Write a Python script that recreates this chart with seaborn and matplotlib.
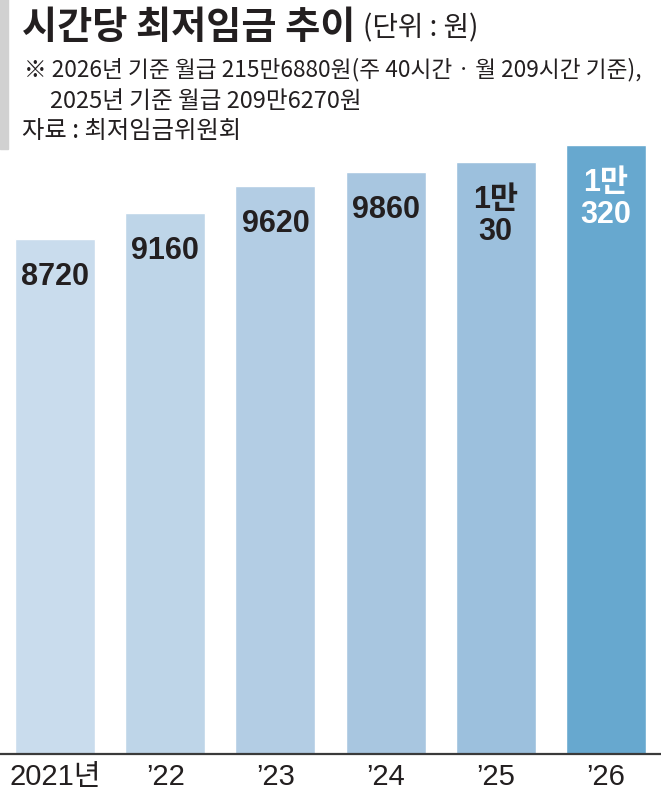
import matplotlib
matplotlib.use("Agg")
import matplotlib.pyplot as plt
import pandas as pd
import seaborn as sns
from matplotlib.patches import Rectangle

# 시간당 최저임금 (단위: 원)
years = ["2021년", "’22", "’23", "’24", "’25", "’26"]
wages = [8720, 9160, 9620, 9860, 10030, 10320]
value_labels = ["8720", "9160", "9620", "9860", "1만\n30", "1만\n320"]
bar_colors = ["#c9dced", "#bed5e8", "#b3cde4", "#a8c6e0", "#9cc0dd", "#67a8cf"]
label_colors = ["#231f20", "#231f20", "#231f20", "#231f20", "#231f20", "#ffffff"]

title = "시간당 최저임금 추이"
unit = "(단위 : 원)"
note_1 = "※ 2026년 기준 월급 215만6880원(주 40시간 · 월 209시간 기준),"
note_2 = "2025년 기준 월급 209만6270원"
source = "자료 : 최저임금위원회"

W, H = 661, 803
INK = "#231f20"
NUM_FONT = ["Liberation Sans", "Noto Sans CJK KR"]

sns.set_theme(style="white")
plt.rcParams["font.family"] = ["Noto Sans CJK KR", "DejaVu Sans"]


def fx(px):
    return px / W


def fy(py):
    return 1 - py / H


df = pd.DataFrame({"year": years, "wage": wages})

fig = plt.figure(figsize=(W / 100, H / 100), dpi=100)
ax = fig.add_axes([0, (H - 755) / H, 1, (755 - 146) / H])
ax.set_facecolor("none")

sns.barplot(
    data=df,
    x="year",
    y="wage",
    hue="year",
    palette=bar_colors,
    saturation=1,
    width=0.726,
    legend=False,
    ax=ax,
)
ax.set_xlim(-0.5, 5.5)
ax.set_ylim(0, 10320)
ax.set_xlabel("")
ax.set_ylabel("")
ax.set_yticks([])
for side in ["top", "left", "right"]:
    ax.spines[side].set_visible(False)
ax.spines["bottom"].set_color("#3a3a3a")
ax.spines["bottom"].set_linewidth(1.6)
ax.tick_params(axis="x", length=0, pad=6, labelsize=21, labelcolor=INK)
for lbl in ax.get_xticklabels():
    lbl.set_fontfamily(NUM_FONT)

for i, (v, lab, c) in enumerate(zip(wages, value_labels, label_colors)):
    for k, line in enumerate(lab.split("\n")):
        ax.annotate(
            line,
            xy=(i, v),
            xytext=(0, -37 - 32 * k),
            textcoords="offset pixels",
            ha="center",
            va="center",
            fontsize=22,
            fontweight="bold",
            color=c,
            family=NUM_FONT,
        )

# header
fig.patches.append(
    Rectangle((0, fy(150)), fx(8), 150 / H, transform=fig.transFigure, color="#d1d1d1")
)
title_txt = fig.text(fx(22), fy(28), title, fontsize=27.5, fontweight="bold", va="center", color=INK)
ax.annotate(
    unit,
    xy=(1, 0.5),
    xycoords=title_txt,
    xytext=(8, 0),
    textcoords="offset pixels",
    ha="left",
    va="center",
    fontsize=20,
    color=INK,
    annotation_clip=False,
)
fig.text(fx(24), fy(70), note_1, fontsize=16.3, va="center", color=INK)
fig.text(fx(50), fy(101), note_2, fontsize=17, va="center", color=INK)
fig.text(fx(22), fy(131), source, fontsize=17.5, va="center", color=INK)

fig.savefig("out.png", dpi=100)
